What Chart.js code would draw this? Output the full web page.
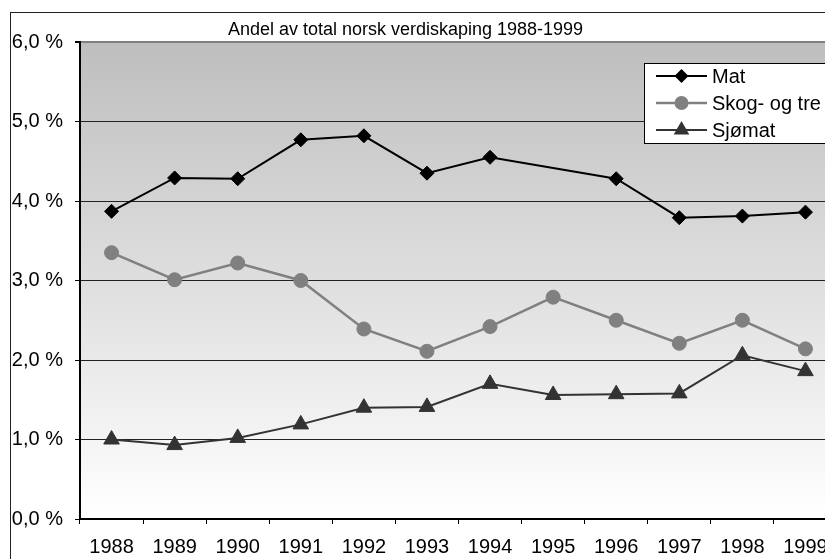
<!DOCTYPE html>
<html>
<head>
<meta charset="utf-8">
<script src="https://cdn.jsdelivr.net/npm/chart.js"></script>
<style>
  html, body { margin: 0; padding: 0; background: #fff; overflow: hidden; }
  #wrap { width: 825px; height: 559px; overflow: hidden; position: relative; }
  canvas { display: block; }
</style>
</head>
<body>
<div id="wrap"><canvas id="chart" width="847" height="566"></canvas></div>
<script>
const years = ['1988', '1989', '1990', '1991', '1992', '1993', '1994', '1995', '1996', '1997', '1998', '1999'];
const mat = [3.87, 4.29, 4.28, 4.77, 4.82, 4.35, 4.55, null, 4.28, 3.79, 3.81, 3.86];
const skog = [3.35, 3.01, 3.22, 3.00, 2.39, 2.11, 2.42, 2.79, 2.50, 2.21, 2.50, 2.14];
const sjomat = [1.00, 0.93, 1.02, 1.19, 1.40, 1.41, 1.70, 1.56, 1.57, 1.58, 2.06, 1.86];
const seriesNames = ['Mat', 'Skog- og tre', 'Sjømat'];
const yMin = 0, yMax = 6, yStep = 1;
const titleText = 'Andel av total norsk verdiskaping 1988-1999';

const FONT = 'Arial, "Liberation Sans", sans-serif';

function marker(ctx, style, x, y, r, fill) {
    ctx.save();
    ctx.fillStyle = fill;
    ctx.beginPath();
    if (style === 'rectRot') {
        ctx.moveTo(x, y - r); ctx.lineTo(x + r, y); ctx.lineTo(x, y + r); ctx.lineTo(x - r, y);
    } else if (style === 'triangle') {
        ctx.moveTo(x, y - r);
        ctx.lineTo(x + r * Math.sqrt(3) / 2, y + r / 2);
        ctx.lineTo(x - r * Math.sqrt(3) / 2, y + r / 2);
    } else {
        ctx.arc(x, y, r, 0, Math.PI * 2);
    }
    ctx.closePath();
    ctx.fill();
    ctx.restore();
}

const decor = {
    id: 'decor',
    beforeDraw(chart) {
        const { ctx, chartArea: a } = chart;
        ctx.save();
        ctx.fillStyle = '#fff';
        ctx.fillRect(0, 0, chart.width, chart.height);
        const g = ctx.createLinearGradient(0, a.top, 0, a.bottom);
        g.addColorStop(0, '#bebebe');
        g.addColorStop(1, '#ffffff');
        ctx.fillStyle = g;
        ctx.fillRect(a.left, a.top, a.right - a.left, a.bottom - a.top);
        // outer frame
        ctx.strokeStyle = '#222';
        ctx.lineWidth = 1;
        ctx.strokeRect(10.5, 12.5, chart.width, chart.height);
        // title
        ctx.fillStyle = '#000';
        ctx.font = '18px ' + FONT;
        ctx.textAlign = 'center';
        ctx.textBaseline = 'alphabetic';
        ctx.fillText(titleText, 405.5, 35);
        ctx.restore();
    },
    afterDraw(chart) {
        const { ctx } = chart;
        const bx = 644, by = 63;
        ctx.save();
        ctx.fillStyle = '#fff';
        ctx.fillRect(bx, by, chart.width - bx, 80);
        ctx.strokeStyle = '#000';
        ctx.lineWidth = 1;
        ctx.strokeRect(bx + 0.5, by + 0.5, chart.width, 80);
        ctx.font = '20px ' + FONT;
        ctx.textAlign = 'left';
        ctx.textBaseline = 'alphabetic';
        chart.data.datasets.forEach((ds, i) => {
            const y = 76 + i * 27;
            ctx.strokeStyle = ds.borderColor;
            ctx.lineWidth = ds.borderWidth;
            ctx.beginPath();
            ctx.moveTo(656, y);
            ctx.lineTo(707, y);
            ctx.stroke();
            marker(ctx, ds.pointStyle, 681.5, y, ds.pointRadius, ds.pointBackgroundColor);
            ctx.fillStyle = '#000';
            ctx.fillText(ds.label, 712, y + 7);
        });
        ctx.restore();
    }
};

new Chart(document.getElementById('chart'), {
    type: 'line',
    data: {
        labels: years,
        datasets: [
            {
                label: seriesNames[0],
                data: mat,
                borderColor: '#000',
                backgroundColor: '#000',
                pointBackgroundColor: '#000',
                pointBorderColor: '#000',
                borderWidth: 2,
                pointStyle: 'rectRot',
                pointRadius: 7,
                pointBorderWidth: 1,
                spanGaps: true,
                tension: 0,
            },
            {
                label: seriesNames[1],
                data: skog,
                borderColor: '#808080',
                backgroundColor: '#808080',
                pointBackgroundColor: '#808080',
                pointBorderColor: '#808080',
                borderWidth: 2.5,
                pointStyle: 'circle',
                pointRadius: 7,
                pointBorderWidth: 1,
                tension: 0,
            },
            {
                label: seriesNames[2],
                data: sjomat,
                borderColor: '#333',
                backgroundColor: '#333',
                pointBackgroundColor: '#333',
                pointBorderColor: '#333',
                borderWidth: 2,
                pointStyle: 'triangle',
                pointRadius: 9,
                pointBorderWidth: 1,
                tension: 0,
            },
        ],
    },
    options: {
        responsive: false,
        animation: false,
        layout: { padding: { top: 42, left: 0, right: 0, bottom: 0 } },
        plugins: {
            legend: { display: false },
            title: { display: false },
            tooltip: { enabled: false },
        },
        scales: {
            x: {
                offset: true,
                grid: {
                    offset: true,
                    drawOnChartArea: false,
                    tickLength: 5,
                    color: '#000',
                },
                border: { color: '#000', width: 2 },
                ticks: {
                    color: '#000',
                    font: { family: FONT, size: 20 },
                    padding: 11,
                    maxRotation: 0,
                    autoSkip: false,
                },
                afterFit(scale) { scale.height = 47; },
            },
            y: {
                min: yMin,
                max: yMax,
                grid: {
                    color: (c) => (c.tick && c.tick.value === yMax ? '#808080' : '#222'),
                    lineWidth: (c) => (c.tick && c.tick.value === yMax ? 2 : 1),
                    tickColor: '#000',
                    tickLength: 5,
                },
                border: { color: '#000', width: 2 },
                ticks: {
                    stepSize: yStep,
                    color: '#000',
                    padding: 12,
                    font: { family: FONT, size: 20 },
                    callback: (v) => v.toFixed(1).replace('.', ',') + ' %',
                },
                afterFit(scale) { scale.width = 80; },
            },
        },
    },
    plugins: [decor],
});
</script>
</body>
</html>
